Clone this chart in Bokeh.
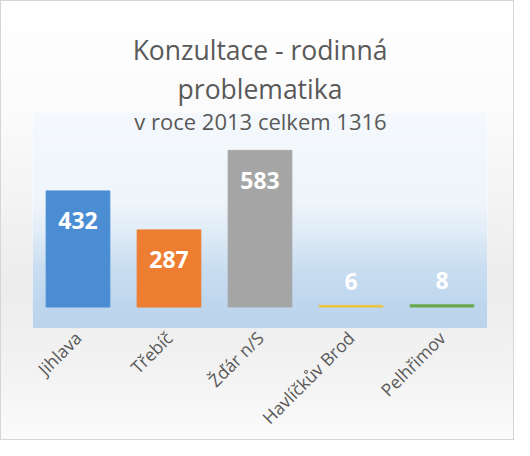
import math
import numpy as np
from bokeh.plotting import figure
from bokeh.models import ColumnDataSource, Range1d, Label, FactorRange, Title
from bokeh.core.properties import value
from bokeh.embed import file_html
from bokeh.resources import INLINE

# ---- data ----
cities = ["Jihlava", "Třebíč", "Žďár n/S", "Havlíčkův Brod", "Pelhřimov"]
counts = [432, 287, 583, 6, 8]
bar_colors = ["#4a8dd3", "#ed7d31", "#a5a5a5", "#ecc440", "#6aa84f"]
title_line1 = "Konzultace - rodinná"
title_line2 = "problematika"
subtitle = "v roce 2013 celkem 1316"

FONT = "Open Sans"
TXT = "#595959"
W, H = 514, 440

p = figure(
    x_range=FactorRange(*cities),
    y_range=Range1d(-80, 724),
    width=W, height=H,
    min_border_left=32, min_border_right=27,
    min_border_top=112, min_border_bottom=106,
    y_axis_location=None,
    output_backend="svg", toolbar_location=None,
    title=None,
)
p.border_fill_alpha = 0
p.outline_line_color = None
p.styles = {
    "background": "linear-gradient(to bottom, #ffffff 0%, #fbfbfb 25%, #ececec 65%, #f3f3f3 85%, #fbfbfb 100%)",
    "box-shadow": "inset 0 0 0 1px #d6d6d6",
}

# plot-area gradient (top near white -> light blue at bottom)
stops_pos = [0.0, 0.42, 0.56, 0.72, 0.88, 1.0]   # from top to bottom
stops_col = [(0xf5, 0xf9, 0xfd), (0xef, 0xf5, 0xfb), (0xe0, 0xec, 0xf7),
             (0xca, 0xde, 0xf1), (0xbf, 0xd7, 0xee), (0xbb, 0xd4, 0xec)]
nrows = 222
t = np.linspace(0, 1, nrows)
img = np.zeros((nrows, 1), dtype=np.uint32)
view = img.view(dtype=np.uint8).reshape((nrows, 1, 4))
for ch in range(3):
    vals = np.interp(t, stops_pos, [c[ch] for c in stops_col])
    view[::-1, 0, ch] = vals.astype(np.uint8)   # row 0 = bottom
view[:, 0, 3] = 255
y0, y1 = p.y_range.start, p.y_range.end
p.image_rgba(image=[img], x=0, y=y0, dw=len(cities), dh=y1 - y0)

src = ColumnDataSource(dict(
    x=cities, top=counts, color=bar_colors,
    label=[str(v) for v in counts],
    yoff=[30 if v > 100 else -24 for v in counts],
))
p.vbar(x="x", top="top", bottom=0, width=0.7, color="color", source=src)
p.text(x="x", y="top", text="label", y_offset="yoff", source=src,
       text_align="center", text_baseline="middle",
       text_font=value(FONT), text_font_style="bold",
       text_font_size="23px", text_color="white")

# two-line title above the plot (later added = farther from the plot)
p.add_layout(Title(text=title_line2, align="center", text_font=FONT,
                   text_font_size="26.5px", text_font_style="normal",
                   text_color=TXT, standoff=11, offset=4), "above")
p.add_layout(Title(text=title_line1, align="center", text_font=FONT,
                   text_font_size="26.5px", text_font_style="normal",
                   text_color=TXT, standoff=-9, offset=4), "above")
# subtitle sits just inside the top of the plot area
p.add_layout(Label(text=subtitle, x=260, y=120, x_units="canvas", y_units="canvas",
                   text_align="center", text_baseline="middle",
                   text_font=FONT, text_font_size="22px", text_color=TXT))

p.xgrid.visible = False
p.ygrid.visible = False
ax = p.xaxis[0]
ax.axis_line_color = None
ax.major_tick_line_color = None
ax.minor_tick_line_color = None
ax.major_label_orientation = math.pi / 4
ax.major_label_text_font = FONT
ax.major_label_text_font_size = "17.5px"
ax.major_label_text_color = TXT
ax.major_label_standoff = 0

open("out.html", "w").write(file_html(p, INLINE))
